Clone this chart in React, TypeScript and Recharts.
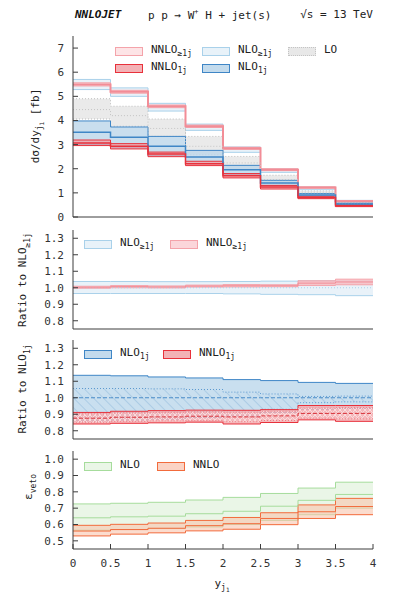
import React from 'react'
import { ComposedChart, Area, Line, XAxis, YAxis } from 'recharts'

// bin edges of y_j1 (8 bins of width 0.5)
const binEdges = [0, 0.5, 1, 1.5, 2, 2.5, 3, 3.5, 4]
const xTicks = [0, 0.5, 1, 1.5, 2, 2.5, 3, 3.5, 4]

// panel 1: dσ/dy_j1 [fb]
const nnloIncCentral = [5.49, 5.19, 4.59, 3.76, 2.85, 1.96, 1.22, 0.65]
const nnloIncLow = [5.43, 5.13, 4.53, 3.71, 2.8, 1.92, 1.19, 0.63]
const nnloIncHigh = [5.56, 5.25, 4.64, 3.81, 2.89, 2.0, 1.25, 0.68]
const nloIncCentral = [5.48, 5.17, 4.55, 3.72, 2.8, 1.92, 1.19, 0.63]
const nloIncLow = [5.28, 5.0, 4.39, 3.59, 2.68, 1.85, 1.13, 0.58]
const nloIncHigh = [5.7, 5.35, 4.71, 3.85, 2.9, 1.99, 1.24, 0.69]
const loCentral = [4.45, 4.2, 3.67, 2.93, 2.24, 1.55, 1.0, 0.55]
const loLow = [4.06, 3.76, 3.34, 2.58, 1.96, 1.41, 0.9, 0.5]
const loHigh = [4.9, 4.59, 4.06, 3.34, 2.51, 1.73, 1.08, 0.61]
const nlo1jCentral = [3.51, 3.3, 2.93, 2.49, 1.96, 1.41, 0.91, 0.54]
const nlo1jLow = [3.01, 2.86, 2.54, 2.21, 1.75, 1.3, 0.86, 0.5]
const nlo1jHigh = [3.98, 3.73, 3.34, 2.76, 2.14, 1.52, 0.97, 0.57]
const nnlo1jCentral = [3.07, 2.93, 2.61, 2.21, 1.71, 1.24, 0.81, 0.47]
const nnlo1jLow = [2.96, 2.82, 2.5, 2.13, 1.62, 1.16, 0.76, 0.43]
const nnlo1jHigh = [3.19, 3.04, 2.69, 2.31, 1.8, 1.31, 0.86, 0.5]

// panel 2: ratio to NLO>=1j
const r2NloCentral = [1.0, 1.0, 1.0, 1.0, 1.0, 1.0, 1.0, 1.0]
const r2NloLow = [0.965, 0.965, 0.965, 0.965, 0.963, 0.96, 0.958, 0.952]
const r2NloHigh = [1.038, 1.038, 1.037, 1.037, 1.038, 1.04, 1.042, 1.04]
const r2NnloCentral = [1.003, 1.007, 1.005, 1.01, 1.012, 1.012, 1.028, 1.035]
const r2NnloLow = [0.997, 1.0, 0.999, 1.004, 1.005, 1.006, 1.014, 1.018]
const r2NnloHigh = [1.009, 1.013, 1.011, 1.016, 1.019, 1.018, 1.042, 1.052]

// panel 3: ratio to NLO1j
const r3NloCentral = [1.0, 1.0, 1.0, 1.0, 1.0, 1.0, 1.0, 1.0]
const r3NloLow = [0.86, 0.865, 0.87, 0.88, 0.89, 0.91, 0.93, 0.935]
const r3NloHigh = [1.136, 1.133, 1.126, 1.12, 1.11, 1.104, 1.093, 1.087]
const r3NloInnerLow = [0.91, 0.91, 0.915, 0.915, 0.92, 0.93, 0.97, 0.975]
const r3NloInnerHigh = [1.056, 1.056, 1.054, 1.05, 1.034, 1.023, 1.008, 1.01]
const r3NnloCentral = [0.876, 0.882, 0.884, 0.888, 0.884, 0.89, 0.905, 0.905]
const r3NnloLow = [0.841, 0.845, 0.848, 0.852, 0.841, 0.85, 0.866, 0.857]
const r3NnloHigh = [0.911, 0.918, 0.922, 0.925, 0.924, 0.928, 0.953, 0.953]
const r3NnloInnerLow = [0.852, 0.857, 0.86, 0.862, 0.855, 0.862, 0.876, 0.872]
const r3NnloInnerHigh = [0.902, 0.908, 0.91, 0.914, 0.912, 0.918, 0.938, 0.94]

// panel 4: ε_veto
const vetoNloCentral = [0.641, 0.647, 0.651, 0.666, 0.681, 0.712, 0.748, 0.784]
const vetoNloLow = [0.565, 0.569, 0.575, 0.585, 0.6, 0.625, 0.66, 0.7]
const vetoNloHigh = [0.726, 0.73, 0.736, 0.75, 0.766, 0.79, 0.823, 0.859]
const vetoNnloCentral = [0.56, 0.569, 0.577, 0.593, 0.605, 0.637, 0.678, 0.71]
const vetoNnloLow = [0.53, 0.541, 0.549, 0.561, 0.571, 0.599, 0.637, 0.66]
const vetoNnloHigh = [0.595, 0.601, 0.609, 0.625, 0.643, 0.672, 0.72, 0.76]

const FONT = '"DejaVu Sans Mono", monospace'
const AX = '#3c3c3c'

// one row per bin edge, last edge repeats the last bin so stepAfter closes the histogram
function stepRows(lines: Record<string, number[]>, bands: Record<string, [number[], number[]]>) {
  return binEdges.map((x, i) => {
    const k = Math.min(i, 7)
    const row: Record<string, any> = { x }
    for (const key in lines) row[key] = lines[key][k]
    for (const key in bands) row[key] = [bands[key][0][k], bands[key][1][k]]
    return row
  })
}

const rows1 = stepRows(
  { nnloInc: nnloIncCentral, nloInc: nloIncCentral, lo: loCentral, nlo1j: nlo1jCentral, nnlo1j: nnlo1jCentral },
  {
    nnloIncBand: [nnloIncLow, nnloIncHigh],
    nloIncBand: [nloIncLow, nloIncHigh],
    loBand: [loLow, loHigh],
    nlo1jBand: [nlo1jLow, nlo1jHigh],
    nnlo1jBand: [nnlo1jLow, nnlo1jHigh],
  }
)
const rows2 = stepRows(
  { nlo: r2NloCentral, nnlo: r2NnloCentral },
  { nloBand: [r2NloLow, r2NloHigh], nnloBand: [r2NnloLow, r2NnloHigh] }
)
const rows3 = stepRows(
  { nlo: r3NloCentral, nnlo: r3NnloCentral },
  {
    nloBand: [r3NloLow, r3NloHigh],
    nloInner: [r3NloInnerLow, r3NloInnerHigh],
    nnloBand: [r3NnloLow, r3NnloHigh],
    nnloInner: [r3NnloInnerLow, r3NnloInnerHigh],
  }
)
const rows4 = stepRows(
  { nlo: vetoNloCentral, nnlo: vetoNnloCentral },
  { nloBand: [vetoNloLow, vetoNloHigh], nnloBand: [vetoNnloLow, vetoNnloHigh] }
)

const ids = { xAxisId: 'b', yAxisId: 'l', isAnimationActive: false, type: 'stepAfter' as const }

function band(key: string, stroke: string, fill: string, opacity = 1, dash?: string, width = 1) {
  return (
    <Area {...ids} key={key} dataKey={key} stroke={stroke} strokeWidth={width} strokeDasharray={dash}
      fill={fill} fillOpacity={opacity} dot={false} activeDot={false} />
  )
}
function line(key: string, stroke: string, width = 1, dash?: string) {
  return <Line {...ids} key={key} dataKey={key} stroke={stroke} strokeWidth={width} strokeDasharray={dash} dot={false} activeDot={false} />
}

function Panel({ top, bottom, domain, yTicks, rows, xLabels, fmt, children }: any) {
  const plotH = bottom - top
  const xAxisH = xLabels ? 30 : 8
  const tickStyle = { fontSize: 11, fill: '#333', fontFamily: FONT }
  return (
    <div style={{ position: 'absolute', left: 0, top: top - 5 }}>
      <ComposedChart width={395} height={plotH + 5 + xAxisH} data={rows} margin={{ top: 5, right: 22, bottom: 0, left: 0 }}>
        <defs>
          <pattern id="hatchBlue" patternUnits="userSpaceOnUse" width="7" height="7" patternTransform="rotate(-45)">
            <line x1="0" y1="0" x2="0" y2="7" stroke="#8fb9dc" strokeWidth="1" />
          </pattern>
          <pattern id="crossRed" patternUnits="userSpaceOnUse" width="5" height="5">
            <path d="M0,0 L5,5 M5,0 L0,5" stroke="#fbdadd" strokeWidth="1" />
          </pattern>
        </defs>
        {children}
        <XAxis xAxisId="b" type="number" dataKey="x" domain={[0, 4]} ticks={xTicks} height={xAxisH}
          tickSize={-5} tickMargin={15} axisLine={{ stroke: AX }} tickLine={{ stroke: AX }}
          tick={xLabels ? tickStyle : false} allowDataOverflow />
        <XAxis xAxisId="t" orientation="top" type="number" domain={[0, 4]} ticks={xTicks} height={0}
          tickSize={-5} axisLine={{ stroke: AX }} tickLine={{ stroke: AX }} tick={false} />
        <YAxis yAxisId="l" type="number" domain={domain} ticks={yTicks} width={73} tickSize={-5}
          tickMargin={14} axisLine={{ stroke: AX }} tickLine={{ stroke: AX }} tick={tickStyle}
          tickFormatter={fmt} allowDataOverflow interval={0} />
        <YAxis yAxisId="r" orientation="right" type="number" domain={domain} ticks={yTicks} width={0}
          tickSize={-5} axisLine={{ stroke: AX }} tickLine={{ stroke: AX }} tick={false} />
      </ComposedChart>
    </div>
  )
}

function Swatch({ x, y, stroke, fill, dash, label, sub }: any) {
  return (
    <>
      <div style={{ position: 'absolute', left: x, top: y, width: 26, height: 7, background: fill,
        border: `1px ${dash ? 'dotted' : 'solid'} ${stroke}` }} />
      <div style={{ position: 'absolute', left: x + 36, top: y - 4, fontSize: 11, fontFamily: FONT, color: '#222', whiteSpace: 'nowrap' }}>
        {label}<sub style={{ fontSize: 8 }}>{sub}</sub>
      </div>
    </>
  )
}

function VLabel({ cx, cy, children }: any) {
  return (
    <div style={{ position: 'absolute', left: cx, top: cy, transform: 'translate(-50%, -50%) rotate(-90deg)',
      fontSize: 11, fontFamily: FONT, color: '#222', whiteSpace: 'nowrap' }}>
      {children}
    </div>
  )
}

const fmt1 = (v: number) => v.toFixed(1)

export default function App() {
  const sub = { fontSize: 8 }
  return (
    <div style={{ position: 'absolute', left: 0, top: 0, width: 395, height: 605, background: '#fff', fontFamily: FONT }}>
      <div style={{ position: 'absolute', left: 75, top: 8, fontSize: 11, fontWeight: 'bold', fontStyle: 'italic', color: '#111' }}>NNLOJET</div>
      <div style={{ position: 'absolute', left: 148, top: 8, fontSize: 11, color: '#222', whiteSpace: 'nowrap' }}>
        p p → W<sup style={{ fontSize: 7 }}>+</sup> H + jet(s)
      </div>
      <div style={{ position: 'absolute', right: 22, top: 8, fontSize: 11, color: '#222', whiteSpace: 'nowrap' }}>√s = 13 TeV</div>

      <Panel top={36} bottom={217} domain={[0, 7.5]} yTicks={[0, 1, 2, 3, 4, 5, 6, 7]} rows={rows1}>
        {band('nloIncBand', '#a9d1ea', '#e3eff8', 0.8)}
        {band('nnloIncBand', '#f4a3aa', '#fbd9dc', 0.8)}
        {line('nnloInc', '#f28d97', 2)}
        {band('loBand', '#bdbdbd', '#e5e5e5', 0.8, '1 2')}
        {line('lo', '#c4c4c4', 1, '1 2')}
        {band('nlo1jBand', '#3f86c6', '#bcd6ea', 0.8)}
        {line('nlo1j', '#3f86c6', 1.5)}
        {band('nnlo1jBand', '#e8313b', '#f0a3a8', 0.75)}
        {line('nnlo1j', '#e8313b', 1.5)}
      </Panel>

      <Panel top={230} bottom={329} domain={[0.75, 1.35]} yTicks={[0.8, 0.9, 1.0, 1.1, 1.2, 1.3]} rows={rows2} fmt={fmt1}>
        {band('nloBand', '#a9d1ea', '#e3eff8', 0.8)}
        {line('nlo', '#a9d1ea', 1, '1 2')}
        {band('nnloBand', '#f4a3aa', '#f7bcc2', 0.8)}
        {line('nnlo', '#f28d97', 1)}
      </Panel>

      <Panel top={340} bottom={439} domain={[0.75, 1.35]} yTicks={[0.8, 0.9, 1.0, 1.1, 1.2, 1.3]} rows={rows3} fmt={fmt1}>
        {band('nloBand', '#3f86c6', '#c3dbed', 0.9)}
        {band('nloInner', '#5d9ad0', 'url(#hatchBlue)', 1, '1 2')}
        {line('nlo', '#4a8cc9', 1, '4 2')}
        {band('nnloBand', '#e8313b', '#f3aeb2', 0.85)}
        {band('nnloInner', '#ee7c84', 'url(#crossRed)', 1, '1 2')}
        {line('nnlo', '#d8333c', 1, '4 2')}
      </Panel>

      <Panel top={451} bottom={549} domain={[0.45, 1.05]} yTicks={[0.5, 0.6, 0.7, 0.8, 0.9, 1.0]} rows={rows4} fmt={fmt1} xLabels>
        {band('nloBand', '#a6dc9c', '#e8f5e4', 0.9)}
        {line('nlo', '#a6dc9c', 1)}
        {band('nnloBand', '#f26b3c', '#f8c4ae', 0.6)}
        {line('nnlo', '#f26b3c', 1)}
      </Panel>

      {/* legends */}
      <Swatch x={115} y={47} stroke="#f4a3aa" fill="#fde4e6" label="NNLO" sub="≥1j" />
      <Swatch x={202} y={47} stroke="#a9d1ea" fill="#e8f2f9" label="NLO" sub="≥1j" />
      <Swatch x={288} y={47} stroke="#c4c4c4" fill="#e8e8e8" dash label="LO" sub="" />
      <Swatch x={115} y={64} stroke="#e8313b" fill="#f3b2b6" label="NNLO" sub="1j" />
      <Swatch x={202} y={64} stroke="#3f86c6" fill="#c3dbed" label="NLO" sub="1j" />

      <Swatch x={84} y={240} stroke="#a9d1ea" fill="#e8f2f9" label="NLO" sub="≥1j" />
      <Swatch x={170} y={240} stroke="#f4a3aa" fill="#fbd6da" label="NNLO" sub="≥1j" />

      <Swatch x={84} y={350} stroke="#3f86c6" fill="#c3dbed" label="NLO" sub="1j" />
      <Swatch x={163} y={350} stroke="#e8313b" fill="#f3b2b6" label="NNLO" sub="1j" />

      <Swatch x={84} y={462} stroke="#a6dc9c" fill="#eaf6e7" label="NLO" sub="" />
      <Swatch x={157} y={462} stroke="#f26b3c" fill="#fbd3c4" label="NNLO" sub="" />

      {/* axis titles */}
      <VLabel cx={37} cy={126}>dσ/dy<sub style={sub}>j<sub style={{ fontSize: 6 }}>1</sub></sub> [fb]</VLabel>
      <VLabel cx={24} cy={280}>Ratio to NLO<sub style={sub}>≥1j</sub></VLabel>
      <VLabel cx={24} cy={389}>Ratio to NLO<sub style={sub}>1j</sub></VLabel>
      <VLabel cx={30} cy={487}>ε<sub style={sub}>veto</sub></VLabel>
      <div style={{ position: 'absolute', left: 222, top: 585, transform: 'translate(-50%, -50%)', fontSize: 11, color: '#222' }}>
        y<sub style={sub}>j<sub style={{ fontSize: 6 }}>1</sub></sub>
      </div>
    </div>
  )
}
